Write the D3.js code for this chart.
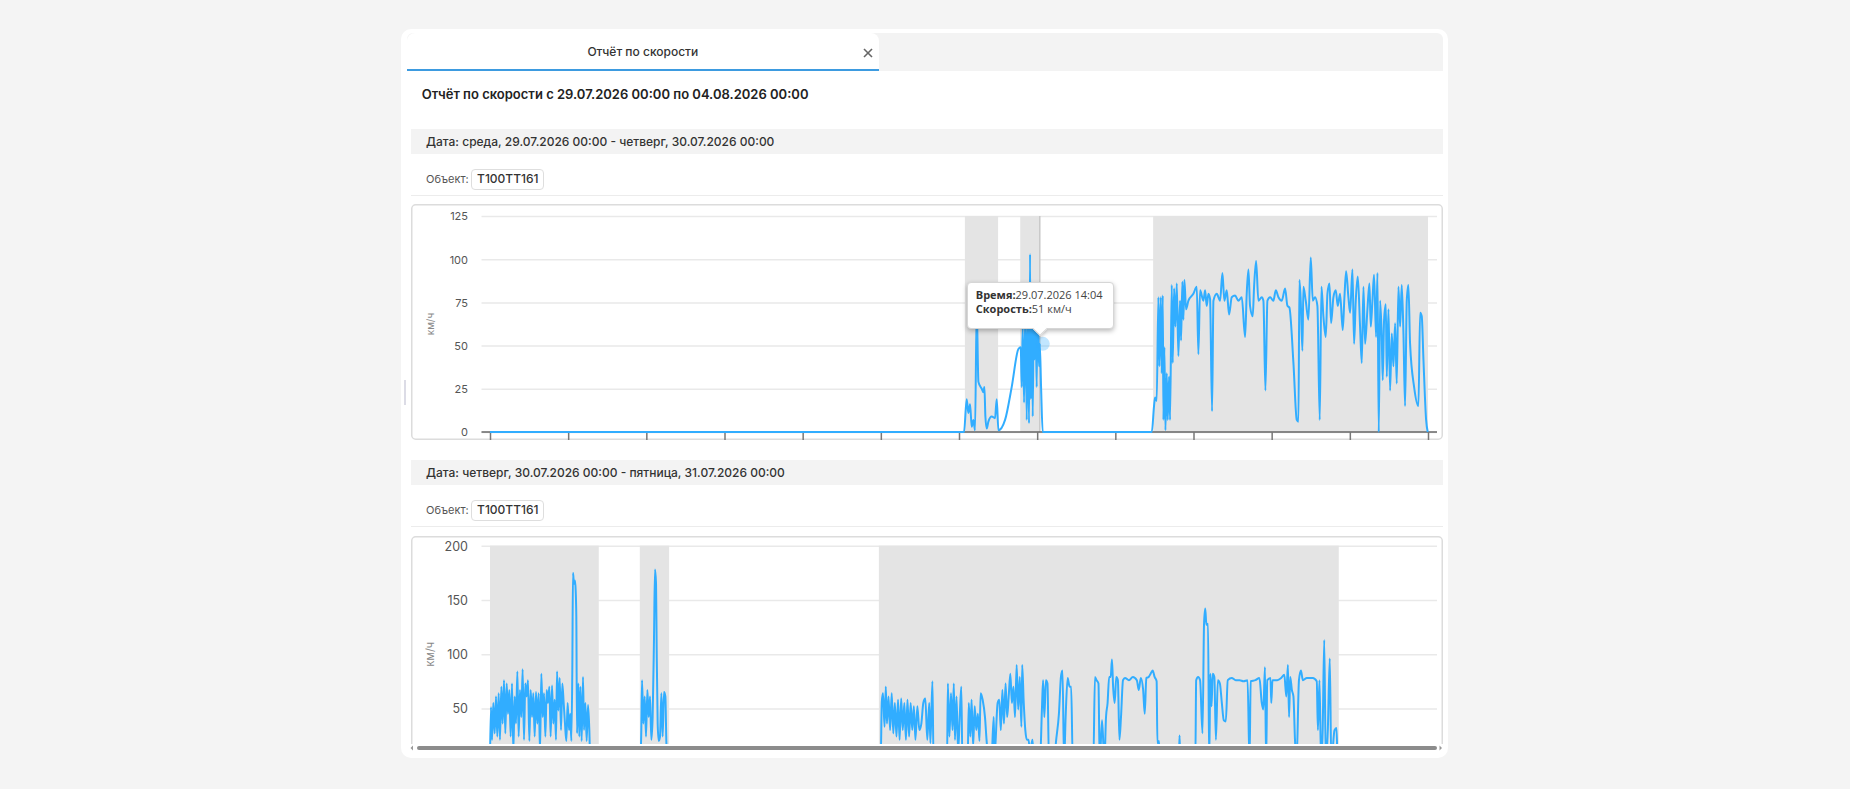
<!DOCTYPE html>
<html lang="ru">
<head>
<meta charset="utf-8">
<script src="https://cdn.jsdelivr.net/npm/d3@7"></script>
<style>
  body { margin: 0; width: 1850px; height: 789px; background: #f4f4f4; position: relative; overflow: hidden;
         font-family: Inter, Roboto, sans-serif; color: #333; }
  .abs { position: absolute; box-sizing: border-box; }
  .bar { background: #f3f3f3; font-size: 12px; font-weight: 500; padding-left: 15px; color: #333; }
  .obj { font-size: 11px; color: #555; }
  .objbox { border: 1px solid #dedede; border-radius: 4px; font-size: 12px; font-weight: 500; text-align: center; color: #333; background: #fff; }
  .sep { height: 1px; background: #ececec; }
  .tip { background: #fff; border: 1px solid #d6d6d6; border-radius: 4px; box-shadow: 0 2px 5px rgba(0,0,0,.28);
         font-family: "Open Sans", sans-serif; font-size: 11px; line-height: 14px; padding: 5px 8px; color: #444; white-space: nowrap; }
  .tip b { color: #333; }
</style>
</head>
<body>
<script>
// texts
const tabTitle = 'Отчёт по скорости';
const reportTitle = 'Отчёт по скорости с 29.07.2026 00:00 по 04.08.2026 00:00';
const objectLabel = 'Объект:';
const objectName = 'T100TT161';
const axisTitle = 'км/ч';

// x ticks, hours of the day
const hourTicks = [0, 2, 4, 6, 8, 10, 12, 14, 16, 18, 20, 22, 24];

// day 1: 29.07.2026
const day1Label = 'Дата: среда, 29.07.2026 00:00 - четверг, 30.07.2026 00:00';
const day1YTicks = [0, 25, 50, 75, 100, 125];
const day1Bands = [['12:09', '13:00'], ['13:34', '14:04'], ['16:58', '24:00']];
// [minute of day, km/h]
const day1Speed = [
  [0, 0], [727.7, 0], [731.8, 19], [734.4, 11], [737, 16], [739.5, 3], [742.1, 7], [744.6, 1],
  [747.2, 72], [749.8, 29], [754.9, 25], [757.4, 23], [759, 26], [760.5, 9], [762.6, 2], [765.1, 6],
  [770.2, 9], [775.3, 8], [777.9, 19], [780.5, 1], [790.7, 7], [800.9, 26], [811.2, 48],
  [814.8, 49], [816.3, 26], [817.8, 61], [819.9, 17], [821.9, 71], [824, 7], [825.5, 67], [827.5, 5],
  [829.1, 103], [830.1, 19], [831.6, 76], [833.2, 9], [834.7, 69], [836.2, 42], [837.8, 61], [839.3, 26],
  [840.9, 86], [842.4, 44], [843.2, 38], [844, 51], [846, 26], [848.5, 0], [1016, 0],
  [1019.4, 15], [1021, 20], [1023.5, 18], [1026.1, 78], [1027.6, 38], [1029.7, 78], [1031.2, 34],
  [1032.8, 79], [1033.8, 7], [1035.3, 49], [1036.9, 1], [1038.9, 34], [1040.4, 7], [1042.5, 32],
  [1044, 7], [1046.6, 85], [1048.1, 40], [1050.2, 83], [1052.2, 61], [1054.3, 86], [1056.8, 44],
  [1059.3, 76], [1060.9, 53], [1062.9, 87], [1064.5, 65], [1066, 88], [1068.6, 71], [1072.2, 76],
  [1079.8, 80], [1085, 84], [1087.5, 45], [1090.1, 82], [1095.2, 76], [1097.8, 82], [1100.3, 73],
  [1102.9, 80], [1105.4, 77], [1108.5, 12], [1110.6, 76], [1115.7, 80], [1120.8, 76], [1124.4, 92],
  [1127.4, 76], [1131, 82], [1134.6, 68], [1138.7, 78], [1143.8, 79], [1148.9, 76], [1154.1, 78],
  [1159.2, 55], [1161.7, 80], [1164.3, 94], [1166.8, 73], [1170.9, 67], [1173, 84], [1176.1, 99],
  [1179.6, 76], [1184.8, 78], [1187.3, 76], [1190.4, 24], [1193.5, 76], [1197.6, 78], [1202.7, 76],
  [1206.3, 82], [1210.4, 78], [1215.5, 76], [1220.6, 83], [1224.2, 73], [1227.2, 72], [1233.4, 40],
  [1238.5, 7], [1241.1, 6], [1242.6, 88], [1244.6, 76], [1247.2, 47], [1248.7, 84], [1252.3, 76],
  [1256.4, 65], [1260, 101], [1263.1, 76], [1266.6, 78], [1270.2, 73], [1273.8, 7], [1276.4, 84],
  [1279.4, 67], [1283, 55], [1285.6, 80], [1288.7, 86], [1291.2, 63], [1294.8, 78], [1298.4, 82],
  [1301.5, 73], [1305, 80], [1309.1, 59], [1311.7, 78], [1314.3, 93], [1317.8, 78], [1320.4, 69],
  [1324, 94], [1326.5, 51], [1329.1, 76], [1332.2, 90], [1335.7, 61], [1338.3, 40], [1340.9, 84],
  [1343.4, 51], [1347, 71], [1350.1, 86], [1352.1, 61], [1354.7, 76], [1357.2, 91], [1360.3, 55],
  [1362.4, 92], [1364.4, 0], [1366.5, 76], [1369, 55], [1370.5, 30], [1372.6, 65], [1375.2, 74],
  [1376.7, 32], [1379.3, 71], [1381.8, 24], [1384.4, 57], [1386.9, 38], [1389.5, 63], [1392, 28],
  [1394.6, 84], [1397.2, 61], [1399.7, 85], [1402.3, 57], [1404.8, 15], [1407.4, 76], [1409.9, 85],
  [1412.5, 51], [1418.7, 26], [1425.3, 15], [1427.9, 69], [1430.4, 67], [1433, 42], [1437.1, 7], [1439.6, 0]
];
const day1Hover = { time: '14:04', speed: 51, label: '29.07.2026 14:04', unit: 'км/ч' };

// day 2: 30.07.2026
const day2Label = 'Дата: четверг, 30.07.2026 00:00 - пятница, 31.07.2026 00:00';
const day2YTicks = [0, 50, 100, 150, 200];
const day2Bands = [['00:00', '02:47'], ['03:50', '04:35'], ['09:57', '21:43']];
const day2Speed = [
  [0, 5], [1.5, 51], [3.1, 21], [5.1, 55], [7.2, 27], [9.2, 61], [11.2, 24], [13.3, 64], [15.3, 21],
  [17.4, 70], [19.4, 36], [21.5, 76], [23.5, 27], [25.6, 73], [27.6, 45], [29.7, 67], [31.7, 24],
  [33.8, 73], [35.8, 10], [37.9, 61], [39.9, 36], [42, 84], [44, 24], [46, 67], [48.1, 42], [50.1, 86],
  [52.2, 21], [54.2, 73], [56.3, 61], [58.3, 76], [60.4, 20], [62.4, 67], [64.5, 42], [66.5, 64],
  [68.6, 24], [70.6, 65], [72.7, 36], [74.7, 64], [76.8, 10], [78.8, 82], [80.9, 42], [82.9, 64],
  [85, 24], [87, 67], [89, 55], [91.1, 70], [93.1, 24], [95.2, 71], [97.2, 36], [99.3, 58], [101.3, 21],
  [102.9, 84], [104.9, 48], [107, 78], [109, 30], [111, 73], [113.1, 55], [115.1, 36], [117.2, 20],
  [119.2, 55], [121.3, 30], [123.3, 45], [124.9, 20], [126.4, 88], [127.4, 175], [129, 165], [130.5, 168],
  [131.5, 159], [132.5, 135], [133.6, 27], [135.6, 73], [137.1, 24], [138.7, 70], [140.7, 20], [142.8, 79],
  [144.3, 30], [146.4, 55], [148.4, 20], [150.5, 53], [152.5, 30], [154, 0], [230.8, 0],
  [232.3, 30], [233.4, 76], [235.4, 36], [237.5, 61], [239.5, 24], [241.6, 67], [243.6, 42], [245.7, 61],
  [247.7, 21], [249.7, 42], [251.8, 116], [253.3, 178], [254.9, 165], [255.9, 104], [257.4, 36], [259, 20],
  [261, 24], [263.1, 64], [265.1, 24], [267.1, 65], [269.2, 61], [270.7, 20], [272.3, 0], [599.7, 0],
  [601.5, 56], [603.3, 64], [605.7, 33], [607.6, 70], [609.4, 36], [611.8, 61], [614.2, 30], [616.7, 64],
  [619.1, 27], [621.5, 55], [624, 24], [626.4, 58], [628.8, 21], [631.2, 59], [633.7, 30], [636.1, 55],
  [638.5, 21], [640.9, 58], [643.4, 24], [645.8, 55], [648.2, 30], [650.7, 52], [653.1, 21], [656.1, 52],
  [659.1, 30], [662.2, 36], [665.2, 55], [668.3, 59], [671.3, 21], [674.3, 55], [676.1, 18], [679.2, 75],
  [681, 0], [701.6, 0], [702.9, 73], [705.3, 24], [707.7, 64], [710.1, 30], [712, 73], [713.8, 21],
  [716.2, 61], [718.6, 10], [721.1, 42], [723.5, 70], [725.3, 0], [733.2, 0], [735, 55], [737.4, 24],
  [739.3, 58], [741.7, 15], [744.1, 52], [746.5, 30], [749, 45], [751.4, 20], [753.2, 64], [756.3, 58],
  [759.9, 42], [762.3, 21], [764.8, 5], [769.6, 0], [773.3, 42], [774.5, 5], [779.3, 55], [781.8, 58],
  [784.2, 30], [786.6, 67], [789, 36], [791.5, 73], [793.9, 42], [796.3, 61], [798.8, 82], [801.2, 55],
  [803.6, 70], [806, 42], [808.5, 90], [810.9, 49], [813.3, 79], [815.8, 33], [817, 90], [819.4, 55],
  [821.8, 30], [824.3, 21], [826.7, 21], [829.1, 10], [832.8, 21], [835.2, 0], [844.3, 0], [847.3, 49],
  [849.1, 76], [851, 42], [853.4, 76], [855.8, 73], [858.2, 0], [865.5, 0], [869.2, 21], [873.4, 45],
  [876.5, 79], [878.9, 85], [881.3, 0], [883.7, 42], [886.8, 78], [889.8, 70], [892.2, 70], [894.7, 0],
  [926.2, 0], [928.7, 79], [931.1, 76], [934.1, 73], [936, 0], [939.6, 39], [943.2, 0], [945.7, 42],
  [948.1, 55], [950.5, 79], [952.9, 79], [954.8, 95], [956.6, 70], [959, 55], [961.4, 79], [963.9, 76],
  [966.3, 21], [968.7, 42], [971.8, 76], [974.8, 78], [980.9, 76], [986.9, 79], [993, 76], [996, 67],
  [999.1, 78], [1002.7, 67], [1005.1, 45], [1007.6, 78], [1011.2, 79], [1014.2, 82], [1017.3, 85],
  [1020.3, 79], [1023.4, 75], [1024.6, 18], [1027, 20], [1028.2, 0], [1057.3, 0], [1058.6, 25], [1059.8, 0],
  [1082.8, 0], [1084.1, 76], [1087.1, 79], [1090.1, 76], [1093.8, 27], [1096.2, 128], [1098, 142],
  [1099.8, 127], [1102.3, 128], [1104.1, 0], [1105.9, 82], [1107.7, 52], [1109.5, 82], [1112, 79],
  [1114.4, 21], [1117.4, 76], [1120.5, 73], [1123.5, 55], [1126.5, 39], [1129.6, 38], [1132.6, 76],
  [1138.7, 78], [1144.8, 76], [1150.8, 76], [1156.9, 75], [1163, 76], [1166, 0], [1167.8, 75], [1175.1, 76],
  [1181.2, 78], [1184.8, 55], [1187.2, 49], [1189.7, 88], [1191.5, 0], [1193.3, 76], [1198.2, 78],
  [1199.4, 55], [1201.2, 76], [1208.5, 76], [1214.6, 78], [1219.4, 81], [1222.5, 61], [1224.9, 90],
  [1226.7, 42], [1228.5, 79], [1231, 67], [1233.4, 61], [1235.8, 21], [1238.2, 0], [1241.9, 76],
  [1244.9, 85], [1247.9, 76], [1254, 78], [1263.1, 78], [1269.2, 75], [1271, 30], [1273.4, 76],
  [1275.9, 0], [1278.3, 30], [1280.7, 113], [1283.1, 0], [1286.2, 30], [1289.2, 96], [1291.6, 0],
  [1296.5, 30], [1299.5, 32], [1301.3, 0], [1440, 0]
];

const toMin = s => { const [h, m] = s.split(':'); return +h * 60 + +m; };
const body = d3.select('body');

const box = (cls, l, t, w, h) =>
  body.append('div').attr('class', 'abs ' + cls)
    .style('left', l + 'px').style('top', t + 'px')
    .style('width', w + 'px').style('height', h + 'px');

// card and tab strip
box('', 401, 29, 1047, 729).style('background', '#fff').style('border-radius', '10px');
box('', 406.7, 32.7, 1036.3, 38).style('background', '#f3f3f3').style('border-radius', '6px 6px 0 0');
box('', 406.7, 32.7, 472.3, 38).style('background', '#fff').style('border-radius', '8px 8px 0 0')
  .style('text-align', 'center').style('line-height', '38px')
  .style('font-size', '12px').style('font-weight', 500).text(tabTitle);
box('', 406.7, 68.7, 472.3, 2).style('background', '#3d9be0');
const close = body.append('svg').attr('class', 'abs')
  .style('left', '863px').style('top', '47.5px').attr('width', 10).attr('height', 10);
close.selectAll('line').data([[1, 1, 9, 9], [9, 1, 1, 9]]).enter().append('line')
  .attr('x1', d => d[0]).attr('y1', d => d[1]).attr('x2', d => d[2]).attr('y2', d => d[3])
  .attr('stroke', '#666').attr('stroke-width', 1.6);

box('', 421.7, 84, 700, 20).style('font-size', '13px').style('font-weight', 600)
  .style('line-height', '20px').style('color', '#222').text(reportTitle);

// faint scrollbar mark on the left
box('', 404.3, 380, 1.5, 25).style('background', '#dcdce6');

const dayHeader = (label, top) => {
  box('bar', 411, top, 1032, 25.3).style('line-height', '25.3px').text(label);
  box('obj', 426, top + 40.3, 45, 20.7).style('line-height', '20.7px').text(objectLabel);
  box('objbox', 471.3, top + 40.3, 73, 20.7).style('line-height', '18.7px').text(objectName);
  box('sep', 411, top + 66, 1032, 1);
};

dayHeader(day1Label, 129);
dayHeader(day2Label, 460);

const plotL = 70.5, plotR = 1026;

const chart = (o) => {
  const viewH = o.clipH || o.height;
  const holder = box('', 411, o.top, 1032, viewH).style('overflow', 'hidden');
  const svg = holder.append('svg').attr('width', 1032).attr('height', o.height);

  svg.append('rect').attr('x', .75).attr('y', .75).attr('width', 1030.5).attr('height', o.height - 1.5)
    .attr('rx', 4).attr('fill', '#fff').attr('stroke', '#dcdcdc').attr('stroke-width', 1.5);

  const x = d3.scaleLinear().domain([0, 1440]).range([79, 1017]);
  const y = d3.scaleLinear().domain([0, o.yMax]).range([o.yBottom, o.yTop]);

  // grid
  const grid = svg.append('g').attr('transform', `translate(${plotL},0)`)
    .call(d3.axisLeft(y).tickValues(o.yTicks).tickSize(-(plotR - plotL)).tickFormat(''));
  grid.select('.domain').remove();
  grid.selectAll('line').attr('stroke', '#e9e9e9').attr('stroke-width', 1.5);

  // active periods
  svg.append('g').selectAll('rect').data(o.bands).enter().append('rect')
    .attr('x', d => x(toMin(d[0]))).attr('width', d => x(toMin(d[1])) - x(toMin(d[0])))
    .attr('y', o.yTop).attr('height', o.yBottom - o.yTop).attr('fill', '#e4e4e4');

  // y labels, only those inside the visible part
  const ya = svg.append('g').attr('transform', 'translate(57,0)')
    .call(d3.axisLeft(y).tickValues(o.yTicks.filter(t => y(t) < viewH - 6)).tickSize(0).tickPadding(0));
  ya.select('.domain').remove();
  ya.selectAll('text').attr('font-family', 'Inter, sans-serif').attr('font-size', o.labelSize)
    .attr('fill', '#555').attr('dy', '0.35em');

  svg.append('text').attr('transform', `translate(${o.titleX},${(o.yTop + o.yBottom) / 2}) rotate(-90)`)
    .attr('text-anchor', 'middle').attr('font-family', 'Inter, sans-serif')
    .attr('font-size', o.titleSize).attr('fill', '#888').text(axisTitle);

  if (o.hover) {
    const hx = x(toMin(o.hover.time));
    svg.append('line').attr('x1', hx).attr('x2', hx).attr('y1', o.yTop).attr('y2', o.yBottom)
      .attr('stroke', '#c8c8c8').attr('stroke-width', 1.5);
  }

  // x axis
  svg.append('line').attr('x1', plotL).attr('x2', plotR).attr('y1', y(0)).attr('y2', y(0))
    .attr('stroke', '#666').attr('stroke-width', 1.5);
  const xa = svg.append('g').attr('transform', `translate(0,${y(0)})`)
    .call(d3.axisBottom(x).tickValues(hourTicks.map(h => h * 60)).tickSize(8).tickFormat(''));
  xa.select('.domain').remove();
  xa.selectAll('line').attr('stroke', '#777').attr('stroke-width', 1.5);

  const line = d3.line().x(d => x(d[0])).y(d => y(d[1])).curve(d3.curveMonotoneX);
  svg.append('path').datum(o.data).attr('d', line)
    .attr('fill', 'none').attr('stroke', '#31adff').attr('stroke-width', 2).attr('stroke-linejoin', 'round');

  if (o.hover) {
    const hx = x(toMin(o.hover.time)), hy = y(o.hover.speed);
    svg.append('circle').attr('cx', hx + 3).attr('cy', hy).attr('r', 7)
      .attr('fill', '#31adff').attr('fill-opacity', .3);
    const px = 411 + hx, py = o.top + hy;
    const tip = box('tip', px - 73, py - 62, 147, 47);
    tip.append('div').html(`<b>Время:</b>${o.hover.label}`);
    tip.append('div').html(`<b>Скорость:</b>${o.hover.speed} ${o.hover.unit}`);
    // pointer
    body.append('div').attr('class', 'abs')
      .style('left', (px - 5) + 'px').style('top', (py - 20) + 'px')
      .style('width', '10px').style('height', '10px').style('background', '#fff')
      .style('transform', 'rotate(45deg)')
      .style('border-right', '1px solid #d6d6d6').style('border-bottom', '1px solid #d6d6d6')
      .style('box-shadow', '2px 2px 3px rgba(0,0,0,.15)');
  }
};

chart({ top: 204, height: 236, yMax: 125, yTicks: day1YTicks, yTop: 12, yBottom: 228,
        bands: day1Bands, data: day1Speed, labelSize: 11, titleSize: 10, titleX: 23, hover: day1Hover });

chart({ top: 536, height: 250, clipH: 208, yMax: 200, yTicks: day2YTicks, yTop: 9.7, yBottom: 226.6,
        bands: day2Bands, data: day2Speed, labelSize: 12.5, titleSize: 11, titleX: 23 });

// horizontal scrollbar
box('', 416.7, 745.7, 1020, 4.6).style('background', '#8c8c8c').style('border-radius', '3px');
const arrows = body.append('svg').attr('class', 'abs').style('left', '408px').style('top', '744px')
  .attr('width', 1040).attr('height', 8);
arrows.selectAll('path').data([[2.5, -1], [1034, 1]]).enter().append('path')
  .attr('d', d => `M${d[0]},4 l${-2.5 * d[1]},-2.5 v5 z`).attr('fill', '#999');
</script>
</body>
</html>
